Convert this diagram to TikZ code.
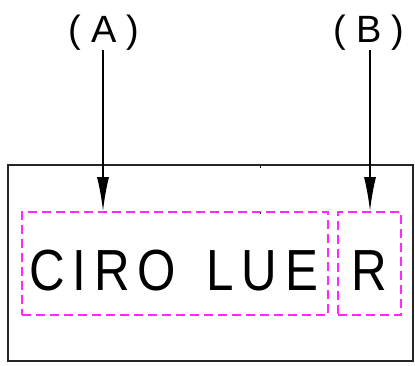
\documentclass[tikz,border=0pt]{standalone}
\usepackage{fontspec}
\setmainfont{Liberation Sans}
\newfontfamily\cadfont[LetterSpace=16]{Liberation Sans}
\usetikzlibrary{arrows.meta}
\definecolor{cadpink}{RGB}{255,40,255}
\tikzset{
  frame/.style={draw=black!85, line width=1.2pt},
  pinkbox/.style={draw=cadpink, line width=1.8pt, dash pattern=on 9pt off 5pt},
  leader/.style={draw=black, line width=1.5pt, -{Latex[length=34pt,width=12pt]}},
  lbl/.style={font=\fontsize{38}{38}\selectfont, inner sep=0pt, anchor=base},
  word/.style={font=\cadfont\fontsize{58}{58}\selectfont, inner sep=0pt, anchor=base west, xscale=0.85}
}
\begin{document}
\begin{tikzpicture}[x=1pt,y=-1pt]
\useasboundingbox (0,0) rectangle (415,365);
% outer frame
\draw[frame] (8,165) rectangle (413,361);
% pink dashed boxes
\node[pinkbox, minimum width=306pt, minimum height=103pt, inner sep=0pt] (box1) at (175,263.5) {};
\node[pinkbox, minimum width=63pt, minimum height=103pt, inner sep=0pt] (box2) at (369.5,263.5) {};
% texts
\node[word] (w1) at (29,290) {CIRO\hspace{36pt}LUE};
\node[word] (w2) at (351,290) {R};
% labels
\node[lbl] (la) at (104,42) {(\hspace{10pt}A\hspace{10pt})};
\node[lbl] (lb) at (369,42) {(\hspace{10pt}B\hspace{10pt})};
\coordinate (sa) at (103,50);
\coordinate (sb) at (370,50);
\draw[leader] (sa) -- (sa |- box1.north);
\draw[leader] (sb) -- (sb |- box2.north);
% small ticks
\draw[black, line width=1pt] (260,165) -- (260,168);
\draw[black, line width=1pt] (260,212) -- (260,214);
\end{tikzpicture}
\end{document}
